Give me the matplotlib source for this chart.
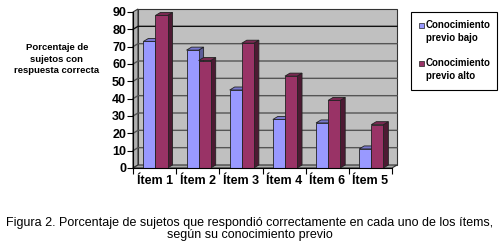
import numpy as np
import matplotlib
matplotlib.use('Agg')
import matplotlib.pyplot as plt
from matplotlib.patches import Polygon, Rectangle

items = ['Ítem 1', 'Ítem 2', 'Ítem 3', 'Ítem 4', 'Ítem 6', 'Ítem 5']
bajo = [73, 68, 45, 28, 26, 11]
alto = [88, 62, 72, 53, 39, 25]
series_names = ['Conocimiento\nprevio bajo', 'Conocimiento\nprevio alto']
y_label = 'Porcentaje de\nsujetos con\nrespuesta correcta'
caption = ('Figura 2. Porcentaje de sujetos que respondió correctamente en cada uno de los ítems,\n'
           'según su conocimiento previo')

plt.rcParams['font.family'] = ['Liberation Sans', 'DejaVu Sans']

col_bajo = ['#9999ff', '#7777cc', '#5c5c99']
col_alto = ['#993366', '#7a2952', '#4d1a33']

W, H = 502, 252
fig = plt.figure(figsize=(W / 100, H / 100), dpi=100)
ax_l, ax_r, ax_b, ax_t = 133, 392, 168, 12
ax = fig.add_axes([ax_l / W, 1 - ax_b / H, (ax_r - ax_l) / W, (ax_b - ax_t) / H])

n = len(items)
xmin, xmax = -0.5, n - 0.5
ymax = 90
ax.set_xlim(xmin, xmax)
ax.set_ylim(0, ymax)

# 3d depth in data units (about 5 px right, 3 px up)
dx = 5 / (ax_r - ax_l) * (xmax - xmin)
dy = 3 / (ax_b - ax_t) * ymax

kw = dict(clip_on=False, linewidth=0.8, edgecolor='#333333')
# walls and floor
ax.add_patch(Polygon([(xmin + dx, dy), (xmax + dx, dy), (xmax + dx, ymax + dy), (xmin + dx, ymax + dy)],
                     facecolor='#c0c0c0', zorder=0, **kw))
ax.add_patch(Polygon([(xmin, 0), (xmin + dx, dy), (xmin + dx, ymax + dy), (xmin, ymax)],
                     facecolor='#b0b0b0', zorder=0, **kw))
ax.add_patch(Polygon([(xmin, 0), (xmax, 0), (xmax + dx, dy), (xmin + dx, dy)],
                     facecolor='#a8a8a8', zorder=0, **kw))
for y in range(10, ymax, 10):
    c = '#111111' if y == 80 else '#555555'
    ax.plot([xmin, xmin + dx, xmax + dx], [y, y + dy, y + dy], color=c, lw=1.0,
            zorder=1, clip_on=False)

bw = 0.28
x = np.arange(n)


def bar3d(x0, h, cols, z):
    edge = dict(edgecolor='#222222', linewidth=0.6, clip_on=False, zorder=z)
    ax.add_patch(Polygon([(x0 + bw, 0), (x0 + bw + dx, dy), (x0 + bw + dx, h + dy), (x0 + bw, h)],
                         facecolor=cols[2], **edge))
    ax.add_patch(Polygon([(x0, h), (x0 + bw, h), (x0 + bw + dx, h + dy), (x0 + dx, h + dy)],
                         facecolor=cols[1], **edge))
    ax.add_patch(Rectangle((x0, 0), bw, h, facecolor=cols[0], **edge))


for i in range(n):
    bar3d(x[i] - 0.26, bajo[i], col_bajo, 2 + i * 2)
    bar3d(x[i] - 0.26 + bw, alto[i], col_alto, 3 + i * 2)

for s in ['top', 'right']:
    ax.spines[s].set_visible(False)
ax.spines['left'].set_zorder(20)
ax.spines['bottom'].set_zorder(20)
ax.set_yticks(range(0, ymax + 1, 10))
ax.set_xticks(np.arange(xmin, xmax + 0.01, 1))
ax.set_xticklabels([])
ax.set_xticks(x, minor=True)
ax.set_xticklabels(items, minor=True, fontsize=9, fontweight='bold')
ax.tick_params(axis='x', which='minor', length=0, pad=5)
ax.tick_params(axis='x', which='major', length=4, direction='out')
ax.tick_params(axis='y', length=4, direction='out', labelsize=9, pad=1)
for t in ax.get_yticklabels():
    t.set_fontweight('bold')

fig.text(57 / W, 1 - 59 / H, y_label, ha='center', va='center', fontsize=6.8,
         fontweight='bold', linespacing=1.3)

# legend
fig.patches.append(Rectangle((411 / W, 1 - 90 / H), 86 / W, 78 / H, transform=fig.transFigure,
                             facecolor='white', edgecolor='black', linewidth=0.8))
for k, (name, cols) in enumerate(zip(series_names, [col_bajo, col_alto])):
    ytop = 20 + k * 38
    fig.patches.append(Rectangle((419 / W, 1 - (ytop + 8) / H), 5 / W, 5 / H,
                                 transform=fig.transFigure, facecolor=cols[0],
                                 edgecolor='#222222', linewidth=0.5))
    fig.text(426 / W, 1 - ytop / H, name, ha='left', va='top', fontsize=7,
             fontweight='bold', linespacing=1.4)

fig.text(250 / W, 1 - 229 / H, caption, ha='center', va='center', fontsize=9, linespacing=1.0)

fig.savefig('out.png', dpi=100, facecolor='white')
